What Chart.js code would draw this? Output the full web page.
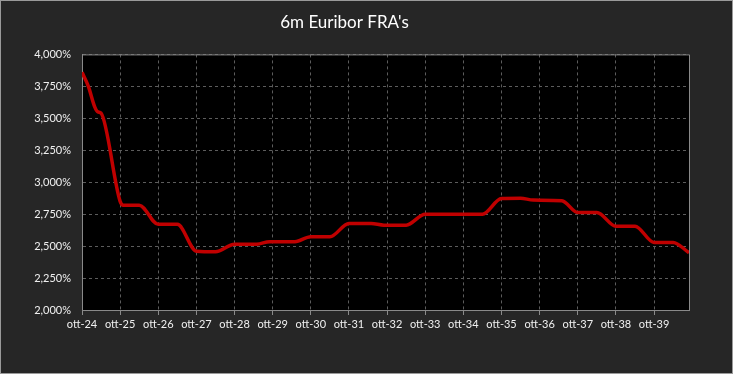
<!DOCTYPE html>
<html>
<head>
<meta charset="utf-8">
<script src="https://cdn.jsdelivr.net/npm/chart.js@4/dist/chart.umd.min.js"></script>
<style>
  html, body { margin: 0; padding: 0; background: #262626; }
  canvas { display: block; }
</style>
</head>
<body>
<canvas id="fraChart" width="733" height="374"></canvas>
<script>
// months since ott-24 and the 6m FRA rate (%)
const months = [0, 2, 4, 5, 6, 12, 13, 18, 24, 30, 36, 42, 48, 55, 59, 67, 72, 78, 84, 91, 95, 102, 108, 126, 132, 138, 142, 151, 156, 162, 168, 174, 180, 186, 191];
const rates = [3.86, 3.75, 3.59, 3.55, 3.54, 2.85, 2.82, 2.82, 2.67, 2.67, 2.46, 2.455, 2.515, 2.515, 2.535, 2.535, 2.573, 2.573, 2.677, 2.677, 2.664, 2.664, 2.75, 2.75, 2.873, 2.875, 2.86, 2.855, 2.763, 2.763, 2.656, 2.656, 2.529, 2.529, 2.448];
const yearLabels = ["ott-24", "ott-25", "ott-26", "ott-27", "ott-28", "ott-29", "ott-30", "ott-31", "ott-32", "ott-33", "ott-34", "ott-35", "ott-36", "ott-37", "ott-38", "ott-39"];

const points = months.map((m, i) => ({ x: m, y: rates[i] }));

const gridColor = "#5c5c5c";
const axisColor = "#8a8a8a";
const textColor = "#f0f0f0";

// black plot area, gray frame round it and round the whole picture
const framePlugin = {
  id: "frame",
  beforeDraw(chart) {
    const { ctx, chartArea: a } = chart;
    ctx.save();
    ctx.fillStyle = "#000";
    ctx.fillRect(a.left, a.top, a.right - a.left, a.bottom - a.top);
    ctx.restore();
  },
  afterDraw(chart) {
    const { ctx, chartArea: a, width, height } = chart;
    ctx.save();
    ctx.strokeStyle = axisColor;
    ctx.lineWidth = 1;
    ctx.beginPath();
    ctx.moveTo(a.left, a.top + 0.5);
    ctx.lineTo(a.right + 0.5, a.top + 0.5);
    ctx.lineTo(a.right + 0.5, a.bottom);
    ctx.stroke();
    ctx.strokeStyle = "#9a9a9a";
    ctx.strokeRect(0.5, 0.5, width - 1, height - 1);
    ctx.restore();
  }
};

new Chart(document.getElementById("fraChart"), {
  type: "line",
  data: {
    datasets: [{
      data: points,
      borderColor: "#c00000",
      borderWidth: 3.5,
      pointRadius: 0,
      cubicInterpolationMode: "monotone",
      borderJoinStyle: "round",
      fill: false
    }]
  },
  options: {
    responsive: false,
    animation: false,
    layout: { padding: { left: 0, right: 44, top: 0, bottom: 0 } },
    plugins: {
      legend: { display: false },
      tooltip: { enabled: false },
      title: {
        display: true,
        text: "6m Euribor FRA's",
        color: "#ffffff",
        font: { family: "Lato", size: 17, weight: "normal" },
        padding: { top: 12, bottom: 22 }
      }
    },
    scales: {
      x: {
        type: "linear",
        min: 0,
        max: 191,
        grid: {
          color: gridColor,
          tickColor: axisColor,
          tickLength: 5,
          tickBorderDash: [],
          drawTicks: true
        },
        border: { color: axisColor, width: 1, dash: [3, 3] },
        ticks: {
          stepSize: 12,
          includeBounds: false,
          autoSkip: false,
          maxRotation: 0,
          padding: 3,
          color: textColor,
          font: { family: "Lato", size: 11 },
          callback: (v) => yearLabels[v / 12]
        },
        afterFit: (scale) => { scale.height = 64; }
      },
      y: {
        min: 2,
        max: 4,
        grid: { color: gridColor, drawTicks: false },
        border: { color: axisColor, width: 1, dash: [3, 3] },
        ticks: {
          stepSize: 0.25,
          padding: 11,
          color: textColor,
          font: { family: "Lato", size: 11 },
          callback: (v) => v.toFixed(3).replace(".", ",") + "%"
        },
        afterFit: (scale) => { scale.width = 82; }
      }
    }
  },
  plugins: [framePlugin]
});
</script>
</body>
</html>
